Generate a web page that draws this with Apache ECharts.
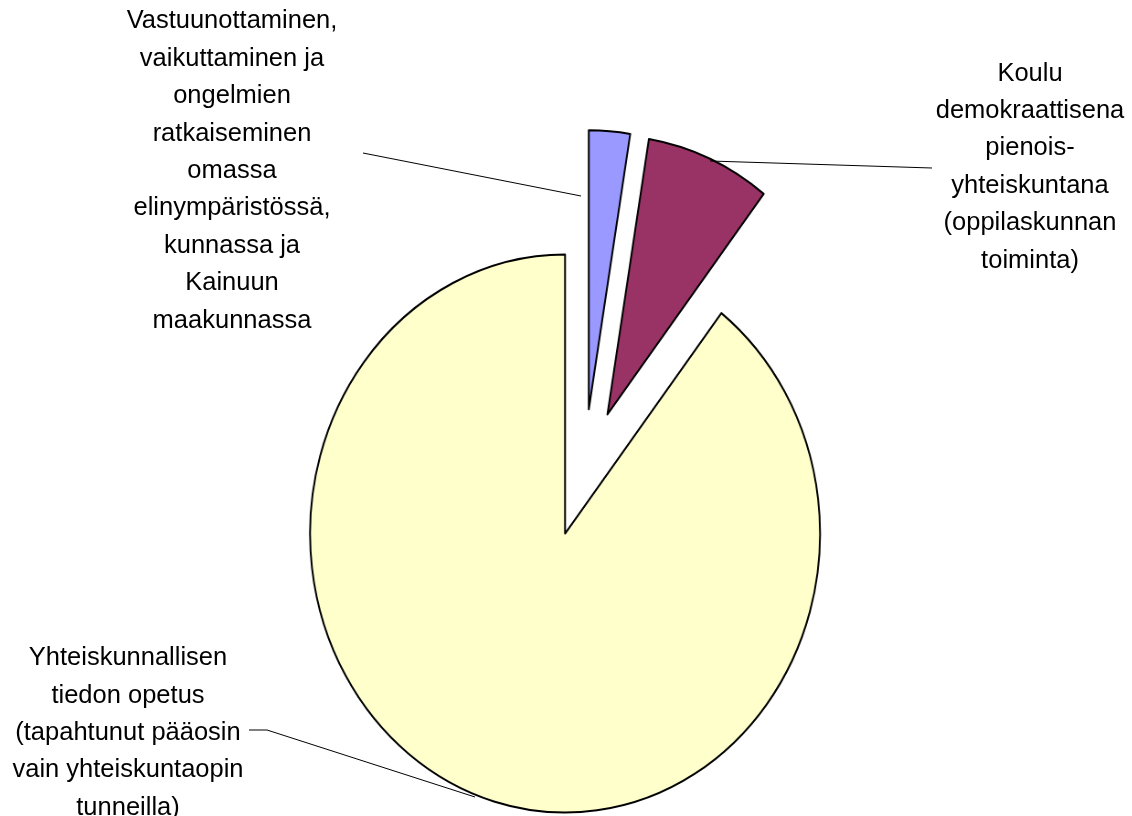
<!DOCTYPE html>
<html>
<head>
<meta charset="utf-8">
<script src="https://cdn.jsdelivr.net/npm/echarts@6.0.0/dist/echarts.min.js"></script>
<style>
    html, body { margin: 0; padding: 0; background: #fff; }
    #wrap { position: relative; width: 1132px; height: 816px; overflow: hidden; }
    /* the original pie is a little narrower than it is tall */
    #pie { position: absolute; left: 0; top: 0; width: 1132px; height: 816px;
           transform: scaleX(0.914); transform-origin: 584px 0; }
    #labels { position: absolute; left: 0; top: 0; width: 1132px; height: 816px; }
</style>
</head>
<body>
<div id="wrap">
    <div id="pie"></div>
    <div id="labels"></div>
</div>
<script type="text/javascript">
    // slice names (line breaks as in the original labels)
    var sliceNames = [
        'Vastuunottaminen,\nvaikuttaminen ja\nongelmien\nratkaiseminen\nomassa\nelinympäristössä,\nkunnassa ja\nKainuun\nmaakunnassa',
        'Koulu\ndemokraattisena\npienois-\nyhteiskuntana\n(oppilaskunnan\ntoiminta)',
        'Yhteiskunnallisen\ntiedon opetus\n(tapahtunut pääosin\nvain yhteiskuntaopin\ntunneilla)'
    ];
    // share of each slice, %
    var sliceValues = [2.6, 7.9, 89.5];
    var sliceColors = ['#9999FF', '#993366', '#FFFFCC'];

    // label anchors and leader lines
    var labelPos = [
        { x: 232, y: 171, line: [[363, 153], [581, 196]] },
        { x: 1030, y: 167, line: [[932, 168], [710, 161]] },
        { x: 128, y: 733, line: [[249, 730], [267, 730], [475, 797]] }
    ];

    var pieChart = echarts.init(document.getElementById('pie'));
    pieChart.setOption({
        animation: false,
        series: [{
            type: 'pie',
            center: [584, 473],
            radius: [0, 279],
            startAngle: 90,
            clockwise: true,
            selectedMode: 'multiple',
            selectedOffset: 64,
            silent: true,
            itemStyle: {
                borderColor: '#000',
                borderWidth: 2
            },
            select: {
                itemStyle: {
                    borderColor: '#000',
                    borderWidth: 2
                }
            },
            label: { show: false },
            labelLine: { show: false },
            data: sliceNames.map(function (name, i) {
                return {
                    name: name,
                    value: sliceValues[i],
                    selected: true,
                    itemStyle: { color: sliceColors[i] }
                };
            })
        }]
    });

    var labelChart = echarts.init(document.getElementById('labels'));
    var elements = [];
    sliceNames.forEach(function (name, i) {
        var p = labelPos[i];
        elements.push({
            type: 'polyline',
            silent: true,
            shape: { points: p.line },
            style: { stroke: '#000', lineWidth: 1, fill: null }
        });
        elements.push({
            type: 'text',
            silent: true,
            x: p.x,
            y: p.y,
            style: {
                text: name,
                fill: '#000',
                fontFamily: 'Arial, "Liberation Sans", sans-serif',
                fontSize: 25.5,
                lineHeight: 37.4,
                align: 'center',
                verticalAlign: 'middle'
            }
        });
    });
    labelChart.setOption({
        animation: false,
        graphic: { elements: elements }
    });
</script>
</body>
</html>
